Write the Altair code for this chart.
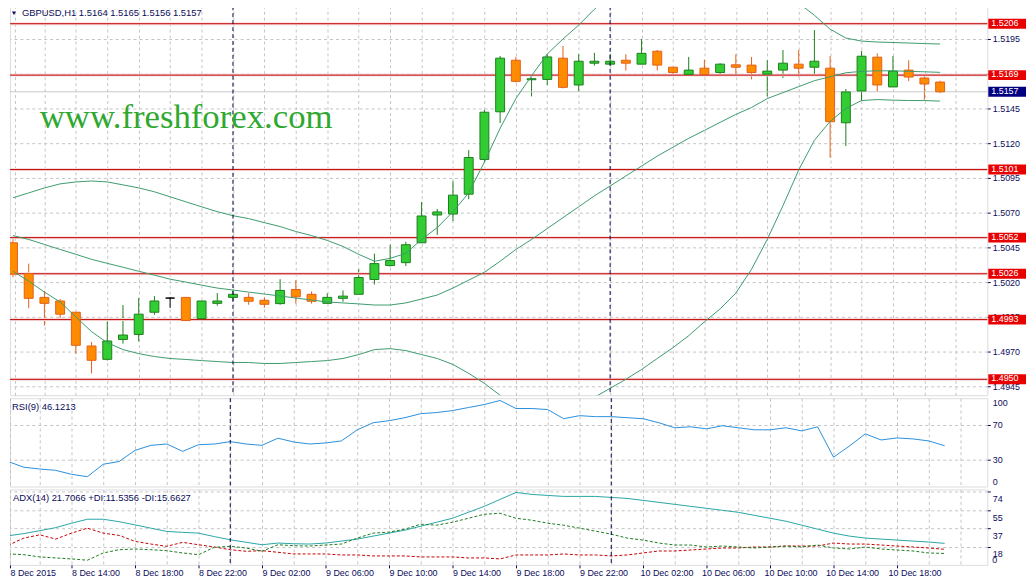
import altair as alt
import pandas as pd

# ------------------------------------------------------------------ data
bar_open = [1.50483, 1.50262, 1.50090, 1.50064, 1.49983, 1.49740, 1.49644, 1.49787, 1.49823, 1.49983,
            1.50085, 1.50090, 1.49937, 1.50047, 1.50090, 1.50090, 1.50069, 1.50045, 1.50147, 1.50112,
            1.50047, 1.50083, 1.50112, 1.50219, 1.50319, 1.50340, 1.50483, 1.50683, 1.50690, 1.50833,
            1.51083, 1.51426, 1.51797, 1.51657, 1.51659, 1.51812, 1.51619, 1.51776, 1.51769, 1.51797,
            1.51769, 1.51862, 1.51747, 1.51695, 1.51740, 1.51709, 1.51764, 1.51762, 1.51697, 1.51726,
            1.51769, 1.51747, 1.51740, 1.51347, 1.51576, 1.51819, 1.51605, 1.51726, 1.51669, 1.51640]
bar_high = [1.50521, 1.50333, 1.50137, 1.50078, 1.49983, 1.49769, 1.49916, 1.50035, 1.50085, 1.50099,
            1.50092, 1.50090, 1.50064, 1.50121, 1.50145, 1.50121, 1.50090, 1.50221, 1.50214, 1.50133,
            1.50119, 1.50140, 1.50292, 1.50405, 1.50469, 1.50490, 1.50776, 1.50726, 1.50926, 1.51150,
            1.51440, 1.51828, 1.51821, 1.51673, 1.51840, 1.51900, 1.51840, 1.51850, 1.51840, 1.51840,
            1.51950, 1.51871, 1.51747, 1.51821, 1.51800, 1.51776, 1.51840, 1.51821, 1.51797, 1.51871,
            1.51871, 1.52014, 1.51828, 1.51590, 1.51864, 1.51847, 1.51828, 1.51797, 1.51697, 1.51650]
bar_low = [1.50235, 1.50012, 1.49887, 1.49923, 1.49685, 1.49542, 1.49635, 1.49757, 1.49773, 1.49964,
           1.50014, 1.49923, 1.49923, 1.50030, 1.50066, 1.50037, 1.50016, 1.50037, 1.50045, 1.50045,
           1.50047, 1.50059, 1.50112, 1.50183, 1.50312, 1.50316, 1.50483, 1.50540, 1.50640, 1.50797,
           1.51064, 1.51345, 1.51637, 1.51537, 1.51619, 1.51595, 1.51573, 1.51759, 1.51759, 1.51723,
           1.51769, 1.51723, 1.51695, 1.51695, 1.51683, 1.51695, 1.51687, 1.51659, 1.51537, 1.51669,
           1.51676, 1.51697, 1.51095, 1.51180, 1.51505, 1.51569, 1.51605, 1.51647, 1.51512, 1.51560]
bar_close = [1.50257, 1.50083, 1.50047, 1.49969, 1.49745, 1.49637, 1.49776, 1.49819, 1.49969, 1.50064,
             1.50085, 1.49923, 1.50064, 1.50064, 1.50112, 1.50062, 1.50040, 1.50140, 1.50094, 1.50062,
             1.50090, 1.50099, 1.50233, 1.50333, 1.50355, 1.50469, 1.50676, 1.50705, 1.50826, 1.51097,
             1.51423, 1.51812, 1.51645, 1.51664, 1.51821, 1.51602, 1.51790, 1.51790, 1.51790, 1.51776,
             1.51847, 1.51762, 1.51709, 1.51726, 1.51695, 1.51769, 1.51747, 1.51709, 1.51719, 1.51776,
             1.51740, 1.51790, 1.51355, 1.51569, 1.51826, 1.51619, 1.51719, 1.51676, 1.51626, 1.51570]

bb_upper = [1.50807, 1.50842, 1.50878, 1.50907, 1.50921, 1.50928, 1.50921, 1.50900, 1.50878, 1.50850,
            1.50814, 1.50778, 1.50742, 1.50707, 1.50678, 1.50657, 1.50628, 1.50600, 1.50564, 1.50535,
            1.50500, 1.50457, 1.50400, 1.50350, 1.50371, 1.50407, 1.50507, 1.50592, 1.50707, 1.50842,
            1.51064, 1.51307, 1.51521, 1.51685, 1.51842, 1.51950, 1.52050, 1.52164, 1.52264, 1.52335,
            1.52392, 1.52428, 1.52450, 1.52457, 1.52450, 1.52435, 1.52414, 1.52385, 1.52342, 1.52285,
            1.52207, 1.52121, 1.52021, 1.51957, 1.51935, 1.51928, 1.51925, 1.51921, 1.51917, 1.51914]
bb_middle = [1.50535, 1.50507, 1.50471, 1.50435, 1.50400, 1.50364, 1.50335, 1.50307, 1.50278, 1.50250,
             1.50221, 1.50200, 1.50178, 1.50157, 1.50143, 1.50128, 1.50114, 1.50100, 1.50085, 1.50071,
             1.50057, 1.50050, 1.50043, 1.50035, 1.50035, 1.50050, 1.50078, 1.50107, 1.50157, 1.50214,
             1.50271, 1.50350, 1.50435, 1.50507, 1.50585, 1.50664, 1.50742, 1.50821, 1.50892, 1.50964,
             1.51035, 1.51107, 1.51171, 1.51235, 1.51292, 1.51350, 1.51407, 1.51457, 1.51521, 1.51564,
             1.51607, 1.51650, 1.51678, 1.51707, 1.51717, 1.51721, 1.51721, 1.51717, 1.51714, 1.51710]
bb_lower = [1.50278, 1.50207, 1.50128, 1.50057, 1.49950, 1.49843, 1.49764, 1.49714, 1.49685, 1.49664,
            1.49650, 1.49643, 1.49635, 1.49628, 1.49621, 1.49621, 1.49614, 1.49614, 1.49621, 1.49628,
            1.49635, 1.49650, 1.49678, 1.49714, 1.49721, 1.49707, 1.49678, 1.49650, 1.49607, 1.49543,
            1.49471, 1.49385, 1.49307, 1.49250, 1.49221, 1.49235, 1.49293, 1.49371, 1.49435, 1.49500,
            1.49571, 1.49650, 1.49728, 1.49814, 1.49914, 1.50007, 1.50121, 1.50293, 1.50507, 1.50750,
            1.51007, 1.51221, 1.51357, 1.51450, 1.51507, 1.51514, 1.51510, 1.51507, 1.51507, 1.51503]

rsi9 = [28.3, 21.8, 19.8, 18.3, 13.8, 11.1, 25.2, 28.3, 40.9, 46.6,
        48.1, 39.8, 47.3, 48.1, 50.8, 48.1, 46.6, 54.7, 50.4, 48.1,
        49.3, 51.6, 64.2, 72.2, 74.5, 77.9, 82.5, 83.7, 86.0, 89.4,
        92.8, 97.4, 88.3, 88.3, 87.1, 76.8, 80.2, 79.1, 79.1, 77.9,
        76.8, 72.2, 66.5, 67.6, 65.3, 68.8, 66.5, 64.2, 64.2, 66.5,
        63.0, 67.6, 33.2, 45.8, 59.6, 52.7, 55.0, 53.9, 51.6, 46.1]
adx14 = [29.3, 31.5, 34.5, 37.5, 42.0, 46.0, 46.0, 43.5, 40.3, 37.0,
         33.7, 32.8, 32.0, 28.5, 25.3, 22.8, 20.3, 22.0, 21.3, 21.0,
         22.0, 24.0, 26.0, 29.0, 32.0, 35.0, 39.0, 43.0, 47.0, 53.0,
         59.0, 66.0, 73.0, 71.0, 70.0, 69.0, 69.0, 69.0, 68.0, 67.0,
         65.0, 63.0, 61.0, 59.0, 57.0, 55.0, 53.0, 50.0, 47.0, 44.0,
         40.0, 36.0, 32.0, 29.0, 27.0, 26.0, 25.0, 24.0, 23.0, 21.7]
plus_di = [11.0, 10.3, 8.0, 7.0, 6.0, 4.7, 12.0, 15.3, 16.0, 15.3,
           14.3, 12.0, 10.3, 17.7, 18.7, 17.0, 13.7, 20.3, 19.3, 19.0,
           20.0, 21.0, 27.0, 32.0, 33.0, 36.0, 41.0, 40.0, 43.0, 47.0,
           51.0, 52.0, 47.0, 45.0, 42.0, 40.0, 37.0, 34.0, 31.0, 27.0,
           25.0, 22.0, 20.0, 20.0, 18.0, 19.0, 18.0, 17.0, 18.0, 19.0,
           18.0, 20.0, 17.0, 16.0, 18.0, 16.0, 15.0, 14.0, 12.0, 11.5]
minus_di = [19.7, 27.0, 30.3, 26.0, 32.0, 37.0, 32.0, 29.7, 23.7, 21.0,
            18.7, 22.7, 20.3, 18.0, 15.3, 13.7, 14.3, 12.7, 11.0, 11.0,
            11.0, 10.0, 10.0, 9.0, 9.0, 9.0, 8.0, 8.0, 8.0, 7.0,
            7.0, 6.0, 10.0, 10.0, 10.0, 11.0, 10.0, 10.0, 9.0, 10.0,
            12.0, 14.0, 14.0, 15.0, 16.0, 17.0, 17.0, 18.0, 18.0, 19.0,
            19.0, 19.0, 22.0, 21.0, 21.0, 20.0, 19.0, 18.0, 17.0, 15.7]

price_ticks = [1.4945, 1.4970, 1.4995, 1.5020, 1.5045, 1.5070, 1.5095, 1.5120,
               1.5145, 1.5170, 1.5195, 1.5220]
level_prices = [1.5206, 1.5169, 1.5101, 1.5052, 1.5026, 1.4993, 1.4950]
bid_price = 1.5157
rsi_ticks = [0, 30, 70, 100]
adx_ticks = [18, 37, 55, 74]
label_bars = [0, 4, 8, 12, 16, 20, 24, 28, 32, 36, 40, 44, 48, 52, 56]
time_labels = ["8 Dec 2015", "8 Dec 14:00", "8 Dec 18:00", "8 Dec 22:00", "9 Dec 02:00",
               "9 Dec 06:00", "9 Dec 10:00", "9 Dec 14:00", "9 Dec 18:00", "9 Dec 22:00",
               "10 Dec 02:00", "10 Dec 06:00", "10 Dec 10:00", "10 Dec 14:00", "10 Dec 18:00"]
separator_bars = [14, 38]
title_text = "GBPUSD,H1  1.5164 1.5165 1.5156 1.5157"
rsi_text = "RSI(9) 46.1213"
adx_text = "ADX(14) 21.7066 +DI:11.5356 -DI:15.6627"
watermark = "www.freshforex.com"

# ------------------------------------------------------------------ layout / style
FONT = "Liberation Sans"
NAVY = "#0b0b5c"
W = 985
H_MAIN, H_RSI, H_ADX = 399, 89, 76
PX_PER_BAR = 16.0
X_LO = 0.125
X_HI = X_LO + W / PX_PER_BAR
P_TOP = 1.5220 + 5 / 14000
P_BOT = P_TOP - H_MAIN / 14000

GRID = dict(grid=True, gridColor="#c4c4c4", gridDash=[3, 3], gridWidth=1)
xs = alt.Scale(domain=[X_LO, X_HI], nice=False, zero=False)
ys = alt.Scale(domain=[P_BOT, P_TOP], nice=False, zero=False)

n = len(bar_open)
bars = list(range(n))
even_bars = [X_LO] + [b for b in range(2, 62, 2) if b <= X_HI]

candles = pd.DataFrame({"k": bars, "open": bar_open, "high": bar_high,
                        "low": bar_low, "close": bar_close})
candles["dir"] = ["up" if c > o else ("down" if c < o else "flat")
                  for o, c in zip(bar_open, bar_close)]
bands = pd.DataFrame({"k": bars * 3, "value": bb_upper + bb_middle + bb_lower,
                      "band": ["upper"] * n + ["middle"] * n + ["lower"] * n})
osc = pd.DataFrame({"k": bars, "rsi": rsi9, "adx": adx14, "pdi": plus_di, "mdi": minus_di})
levels = pd.DataFrame({"price": level_prices,
                       "label": [f"{p:.4f}" for p in level_prices]})
bid = pd.DataFrame({"price": [bid_price], "label": [f"{bid_price:.4f}"]})
seps = pd.DataFrame({"k": separator_bars})

dir_dom = ["up", "down", "flat"]
fill_sc = alt.Scale(domain=dir_dom, range=["#32cd32", "#ff8c00", "#000000"])
line_sc = alt.Scale(domain=dir_dom, range=["#1d7f1d", "#e2601a", "#000000"])

keys = "[" + ",".join(str(b) for b in label_bars) + "]"
texts = "[" + ",".join("'" + t + "'" for t in time_labels) + "]"
label_expr = (f"indexof({keys}, round(datum.value)) >= 0 ? "
              f"{texts}[indexof({keys}, round(datum.value))] : ''")
is_label = f"indexof({keys}, round(datum.value)) >= 0"
# the terminal squeezes the last day's labels slightly to the left
label_shift = {"condition": [{"test": "round(datum.value) == 40", "value": -3},
                             {"test": "round(datum.value) == 44", "value": -5},
                             {"test": "round(datum.value) == 48", "value": -6},
                             {"test": "round(datum.value) == 52", "value": -8},
                             {"test": "round(datum.value) == 56", "value": -9}],
               "value": 0}

# ---------------- shared axes (the same definition is given to every layer of a panel)
plain_x_axis = alt.Axis(values=even_bars, labels=False, ticks=False, domain=False,
                        title=None, zindex=0, **GRID)
price_axis = alt.Axis(orient="right", values=price_ticks, format=".4f", title=None,
                      domain=False, tickSize=3, tickColor=NAVY, labelPadding=2,
                      labelColor=NAVY, labelFont=FONT, labelFontSize=9, zindex=0,
                      labelOverlap=False, labelFlush=False, **GRID)
rsi_axis = alt.Axis(orient="right", values=rsi_ticks, title=None, domain=False,
                    tickSize=3, tickColor=NAVY, labelPadding=2, labelColor=NAVY,
                    labelFont=FONT, labelFontSize=9, labelFlush=True, zindex=0,
                    labelOverlap=False,
                    tickOpacity={"condition": {"test": "datum.value == 30 || datum.value == 70",
                                               "value": 1}, "value": 0},
                    gridOpacity={"condition": {"test": "datum.value == 30 || datum.value == 70",
                                               "value": 1}, "value": 0},
                    **GRID)
adx_y_axis = alt.Axis(orient="right", values=adx_ticks, title=None, domain=False,
                      tickSize=3, tickColor=NAVY, labelPadding=2, labelColor=NAVY,
                      labelFont=FONT, labelFontSize=9, labelBaseline="top", labelOffset=3,
                      labelFlush=False, labelOverlap=False, zindex=0, **GRID)
adx_x_axis = alt.Axis(values=even_bars, title=None, domain=False, zindex=0,
                      labelExpr=label_expr, labelAlign="left", labelBaseline="top",
                      labelPadding=1, labelColor=NAVY, labelFont=FONT, labelFontSize=9,
                      labelOverlap=False, labelFlush=False, labelBound=False,
                      labelOffset=label_shift,
                      tickSize=3, tickColor=NAVY,
                      tickOpacity={"condition": {"test": is_label, "value": 1}, "value": 0},
                      **GRID)

xs_main = alt.X("k:Q", scale=xs, axis=plain_x_axis)
xs_rsi = alt.X("k:Q", scale=xs, axis=plain_x_axis)
xs_adx = alt.X("k:Q", scale=xs, axis=adx_x_axis)


def py(field):
    return alt.Y(field, scale=ys, axis=price_axis)


def text_layer(txt, x, y, size, color=NAVY, font=FONT, baseline="middle"):
    return alt.Chart(pd.DataFrame({"t": [txt]})).mark_text(
        align="left", baseline=baseline, font=font, fontSize=size, color=color
    ).encode(x=alt.value(x), y=alt.value(y), text="t:N")


def separators(xenc):
    return alt.Chart(seps).mark_rule(color="#000048", strokeDash=[4, 3], strokeWidth=1).encode(
        x=xenc)


# ------------------------------------------------------------------ main price panel
wicks = alt.Chart(candles).mark_rule(strokeWidth=1, clip=True).encode(
    x=xs_main, y=py("low:Q"), y2="high:Q",
    color=alt.Color("dir:N", scale=line_sc, legend=None))

level_glow = alt.Chart(levels).mark_rule(color="#f7dcdc", strokeWidth=3).encode(y=py("price:Q"))
level_lines = alt.Chart(levels).mark_rule(color="#c00000", strokeWidth=1).encode(y=py("price:Q"))
bid_line = alt.Chart(bid).mark_rule(color="#c8c8c8", strokeWidth=1).encode(y=py("price:Q"))

bodies = alt.Chart(candles).mark_bar(size=9, strokeWidth=1, clip=True).encode(
    x=xs_main, y=py("open:Q"), y2="close:Q",
    fill=alt.Fill("dir:N", scale=fill_sc, legend=None),
    stroke=alt.Stroke("dir:N", scale=line_sc, legend=None))

band_lines = alt.Chart(bands).mark_line(color="#3d9b6d", strokeWidth=1, clip=True).encode(
    x=xs_main, y=py("value:Q"), detail="band:N")

level_boxes = alt.Chart(levels).mark_tick(orient="horizontal", thickness=10, size=38,
                                          color="#e80000", opacity=1).encode(
    y=py("price:Q"), x=alt.value(1005))
bid_box = alt.Chart(bid).mark_tick(orient="horizontal", thickness=10, size=38,
                                   color="#000080", opacity=1).encode(
    y=py("price:Q"), x=alt.value(1005))
box_text = alt.Chart(pd.concat([levels, bid])).mark_text(
    align="left", baseline="middle", color="white", font=FONT, fontSize=9, dy=-1).encode(
    y=py("price:Q"), x=alt.value(989), text="label:N")

tri = alt.Chart(pd.DataFrame({"t": [0]})).mark_point(
    shape="triangle-down", filled=True, size=16, color=NAVY, opacity=1).encode(
    x=alt.value(4), y=alt.value(14))

main = alt.layer(
    wicks, level_glow, level_lines, bid_line, bodies, band_lines, separators(xs_main),
    text_layer(watermark, 30, 130, 35, color="#2fa830", font="Liberation Serif",
               baseline="alphabetic"),
    tri, text_layer(title_text, 12, 14, 9.5),
    level_boxes, bid_box, box_text,
).properties(width=W, height=H_MAIN)

# ------------------------------------------------------------------ RSI panel
rsi_line = alt.Chart(osc).mark_line(color="#2a8fdc", strokeWidth=1, clip=True).encode(
    x=xs_rsi,
    y=alt.Y("rsi:Q", scale=alt.Scale(domain=[0, 100], nice=False), axis=rsi_axis))
rsi = alt.layer(rsi_line, separators(xs_rsi), text_layer(rsi_text, 2, 9, 9.5)).properties(
    width=W, height=H_RSI)

# ------------------------------------------------------------------ ADX panel
adx_scale = alt.Scale(domain=[0, H_ADX], nice=False)


def ay(field):
    return alt.Y(field, scale=adx_scale, axis=adx_y_axis)


adx_line = alt.Chart(osc).mark_line(color="#2aa5a5", strokeWidth=1, clip=True).encode(
    x=xs_adx, y=ay("adx:Q"))
pdi_line = alt.Chart(osc).mark_line(color="#1f7a1f", strokeWidth=1, strokeDash=[3, 2],
                                    clip=True).encode(x=xs_adx, y=ay("pdi:Q"))
mdi_line = alt.Chart(osc).mark_line(color="#c80000", strokeWidth=1, strokeDash=[3, 2],
                                    clip=True).encode(x=xs_adx, y=ay("mdi:Q"))
zero_lbl = alt.Chart(pd.DataFrame({"v": [0], "t": ["0"]})).mark_text(
    align="left", baseline="bottom", font=FONT, fontSize=9, color=NAVY).encode(
    y=ay("v:Q"), x=alt.value(W + 5), text="t:N")
adx = alt.layer(adx_line, mdi_line, pdi_line, separators(xs_adx), zero_lbl,
                text_layer(adx_text, 3, 9, 9.5)).properties(width=W, height=H_ADX)

chart = alt.vconcat(main, rsi, adx, spacing=3, bounds="flush").properties(
    padding={"left": 0, "top": -12, "right": 0, "bottom": 0}
).configure_view(stroke="#000033", strokeWidth=1).configure(background="white")

chart.save("out.html", embed_options={"renderer": "svg", "actions": False})
